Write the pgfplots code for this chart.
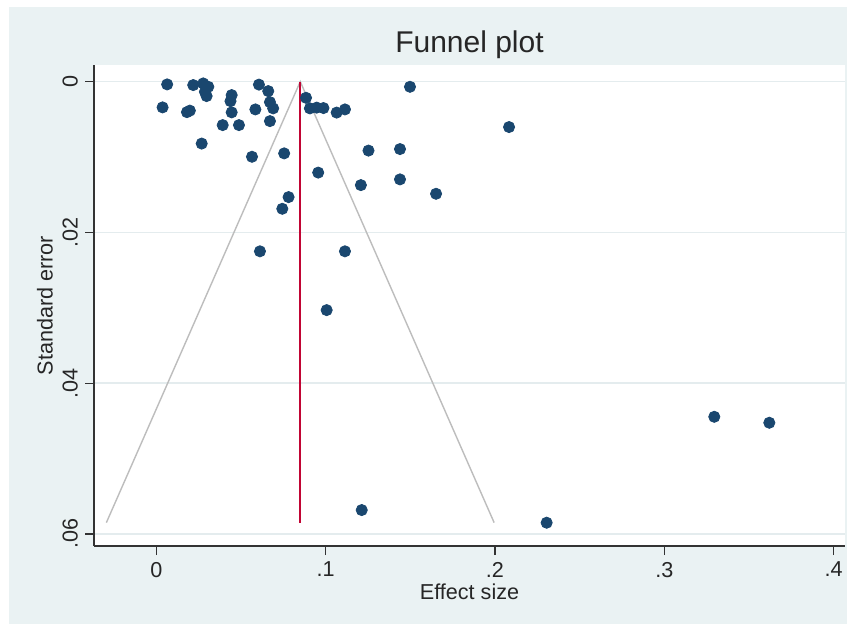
\documentclass[border=0pt]{standalone}
\usepackage{fontspec}
\setmainfont{Liberation Sans}
\usepackage{pgfplots}
\pgfplotsset{compat=1.18}
\definecolor{stbg}{HTML}{EAF2F3}
\definecolor{stnavy}{HTML}{1A476F}
\definecolor{stred}{HTML}{C10534}
\definecolor{stgrid}{HTML}{E4ECEE}
\definecolor{stfunnel}{HTML}{BDBDBD}
\begin{document}
\begin{tikzpicture}
\path[use as bounding box] (0,0) rectangle (428pt,314.5pt);
\fill[stbg] (4.5pt,2.5pt) rectangle (423.5pt,311pt);
\begin{axis}[
  name=ax,
  at={(47pt,41.5pt)}, anchor=south west,
  scale only axis, width=375.5pt, height=240.5pt,
  xmin=-0.0368, xmax=0.4067, ymin=-0.0022, ymax=0.0616,
  y dir=reverse,
  scaled ticks=false,
  axis background/.style={fill=white},
  axis x line*=bottom, axis y line*=left,
  axis line style={black!80, line width=0.6pt, -},
  xtick={0,0.1,0.2,0.3,0.4}, xticklabels={0,.1,.2,.3,.4},
  ytick={0,0.02,0.04,0.06}, yticklabels={0,.02,.04,.06},
  tick align=outside, major tick length=4.5pt,
  tick style={black!80, line width=0.6pt},
  ymajorgrids, grid style={stgrid, line width=0.7pt},
  ticklabel style={font=\fontsize{10.8}{12}\selectfont, text=black!85},
  yticklabel style={rotate=90, anchor=south},
  clip=false,
]
\addplot[stfunnel, line width=0.7pt] coordinates {(-0.0295,0.0585) (0.0850,0) (0.1995,0.0585)};
\addplot[stred, line width=1pt] coordinates {(0.0850,0) (0.0850,0.0585)};
\addplot[only marks, mark=*, mark size=2.8pt, color=stnavy, mark options={draw=stnavy, fill=stnavy}] table {
x y
0.0064 0.00037
0.0037 0.00342
0.0218 0.00046
0.0277 0.00024
0.0307 0.00069
0.0287 0.00135
0.0297 0.00192
0.0181 0.00405
0.0198 0.00385
0.0445 0.00179
0.0438 0.00259
0.0445 0.00408
0.0392 0.00577
0.0488 0.00577
0.0268 0.00822
0.0606 0.00040
0.0661 0.00126
0.0671 0.00272
0.0690 0.00355
0.0585 0.00369
0.0671 0.00524
0.0884 0.00215
0.0907 0.00355
0.0947 0.00345
0.0987 0.00351
0.1065 0.00411
0.1114 0.00369
0.1498 0.00069
0.2083 0.00603
0.1253 0.00915
0.1439 0.00895
0.0565 0.00997
0.0755 0.00952
0.0956 0.01207
0.1208 0.01373
0.1439 0.01297
0.1652 0.01488
0.0781 0.01532
0.0744 0.01687
0.0612 0.02251
0.1114 0.02251
0.1006 0.03031
0.1213 0.05683
0.2305 0.05851
0.3295 0.04446
0.3620 0.04525
};
\end{axis}
\node[font=\fontsize{15}{18}\selectfont, text=black!85, anchor=center] at ([yshift=10pt]ax.north) {Funnel plot};
\node[font=\fontsize{10.8}{12}\selectfont, text=black!85, anchor=center] at ([yshift=-23pt]ax.south) {Effect size};
\node[font=\fontsize{10.8}{12}\selectfont, text=black!85, anchor=center, rotate=90] at ([xshift=-24.5pt]ax.west) {Standard error};
\end{tikzpicture}
\end{document}
